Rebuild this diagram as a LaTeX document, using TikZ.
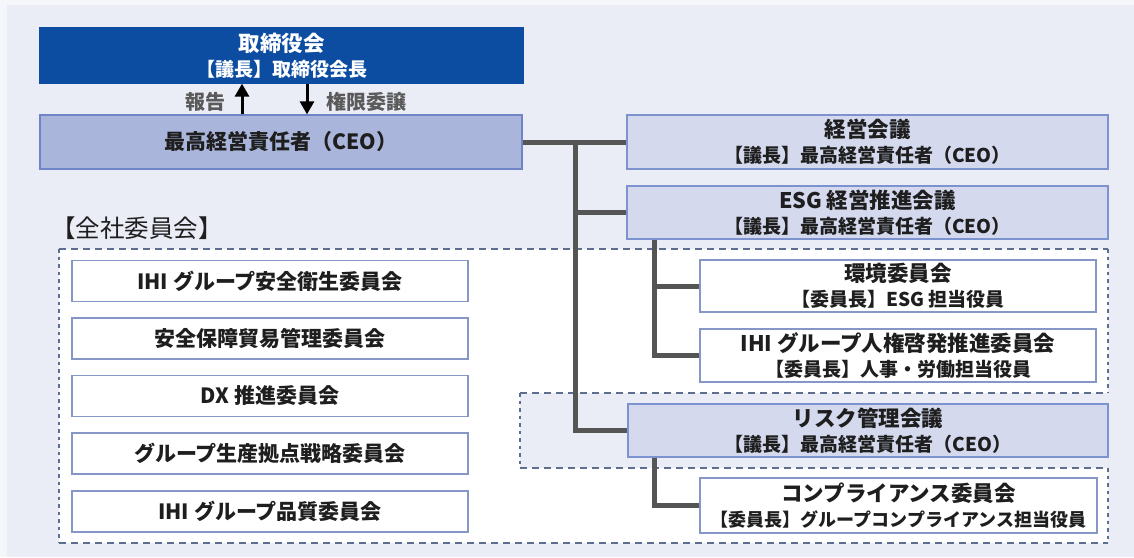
\documentclass[tikz,border=0pt]{standalone}
\usepackage{fontspec}
\setmainfont{Noto Sans CJK JP}
\usetikzlibrary{arrows.meta}
\definecolor{outerc}{HTML}{F5F6FA}
\definecolor{bgc}{HTML}{EBEDF6}
\definecolor{topblue}{HTML}{0C4DA2}
\definecolor{ceofill}{HTML}{A9B5DA}
\definecolor{ceoline}{HTML}{6F84C6}
\definecolor{rfill}{HTML}{D4D9EE}
\definecolor{rline}{HTML}{7D93CF}
\definecolor{wline}{HTML}{8696C6}
\definecolor{connc}{HTML}{555555}
\definecolor{dashc}{HTML}{5E6E8E}
\definecolor{txt}{HTML}{1E1E1E}
\definecolor{lblc}{HTML}{5A5A5A}
\newcommand{\myttl}{\bfseries\fontsize{21.5}{25}\selectfont}
\newcommand{\mysub}{\bfseries\fontsize{19}{25}\selectfont}
\newcommand{\mysubs}{\bfseries\fontsize{18}{25}\selectfont}
\begin{document}
\begin{tikzpicture}[x=1pt,y=-1pt,
  box/.style={draw, line width=1.3pt, inner sep=0pt, align=center, text=txt, font=\mysub},
  bluebox/.style={box, fill=topblue, draw=topblue, text=white},
  ceobox/.style={box, fill=ceofill, draw=ceoline},
  rbox/.style={box, fill=rfill, draw=rline},
  wbox/.style={box, fill=white, draw=wline},
  lbox/.style={box, fill=white, draw=wline, font=\bfseries\fontsize{21}{25}\selectfont, minimum width=396pt, minimum height=41pt},
  conn/.style={draw=connc, line width=5pt},
  dsh/.style={draw=dashc, line width=1.6pt, dash pattern=on 7pt off 5pt},
  dshv/.style={draw=dashc, line width=1.6pt, dash pattern=on 3.5pt off 4pt},
  arr/.style={line width=3pt, -{Triangle[width=14pt,length=13pt]}},
  lbl/.style={text=lblc, font=\bfseries\fontsize{20}{24}\selectfont, inner sep=0pt}
]
\useasboundingbox (0,0) rectangle (1134,557);
\fill[outerc] (0,0) rectangle (1134,557);
\fill[bgc] (7,5) rectangle (1134,557);
% white region of committees
\fill[white] (59,249) -- (1108,249) -- (1108,393) -- (520,393) -- (520,468)
  -- (1108,468) -- (1108,543) -- (59,543) -- cycle;
\fill[bgc] (520,393) rectangle (1108,468);
% dashed outlines
\draw[dsh] (59,249) -- (1108,249);
\draw[dsh] (520,393) -- (1108,393);
\draw[dsh] (520,468) -- (1108,468);
\draw[dsh] (59,543) -- (1108,543);
\draw[dshv] (59,249) -- (59,543);
\draw[dshv] (1108,249) -- (1108,393);
\draw[dshv] (520,393) -- (520,468);
\draw[dshv] (1108,468) -- (1108,543);
% label
\node[anchor=west, inner sep=0pt, text=txt, font=\fontsize{24.5}{27}\selectfont] (zensha) at (51,228) {【全社委員会】};
% boxes
\node[bluebox, minimum width=483pt, minimum height=55pt] (board) at (281.5,55.5)
  {{\myttl 取締役会}\\{\mysub 【議長】取締役会長}};
\node[ceobox, minimum width=482pt, minimum height=54pt, font=\bfseries\fontsize{21}{25}\selectfont] (ceo) at (281,142)
  {最高経営責任者（CEO）};
\node[rbox, minimum width=481pt, minimum height=54pt] (keiei) at (867.5,142)
  {{\myttl 経営会議}\\{\mysub 【議長】最高経営責任者（CEO）}};
\node[rbox, minimum width=481pt, minimum height=53pt] (esg) at (867.5,212.5)
  {{\myttl ESG 経営推進会議}\\{\mysub 【議長】最高経営責任者（CEO）}};
\node[wbox, minimum width=396pt, minimum height=52pt] (env) at (898,286)
  {{\myttl 環境委員会}\\{\mysub 【委員長】ESG 担当役員}};
\node[wbox, minimum width=396pt, minimum height=53pt] (hr) at (898,355.5)
  {{\myttl IHI グループ人権啓発推進委員会}\\{\mysub 【委員長】人事・労働担当役員}};
\node[rbox, minimum width=480pt, minimum height=53pt] (risk) at (868,430.5)
  {{\myttl リスク管理会議}\\{\mysub 【議長】最高経営責任者（CEO）}};
\node[wbox, minimum width=397pt, minimum height=55pt] (comp) at (898.5,505.5)
  {{\myttl コンプライアンス委員会}\\{\mysubs 【委員長】グループコンプライアンス担当役員}};
\node[lbox] (l1) at (270,281) {IHI グループ安全衛生委員会};
\node[lbox] (l2) at (270,338.5) {安全保障貿易管理委員会};
\node[lbox] (l3) at (270,396) {DX 推進委員会};
\node[lbox] (l4) at (270,453.5) {グループ生産拠点戦略委員会};
\node[lbox] (l5) at (270,511.5) {IHI グループ品質委員会};
% connectors
\coordinate (tk) at (575,0);
\coordinate (sk) at (654,0);
\draw[conn] (ceo.east) -- (keiei.west);
\draw[conn] (ceo.east -| tk) |- (risk.west);
\draw[conn] (esg.west -| tk) -- (esg.west);
\draw[conn] (esg.south -| sk) |- (hr.west);
\draw[conn] (env.west -| sk) -- (env.west);
\draw[conn] (risk.south -| sk) |- (comp.west);
% arrows between board and CEO
\coordinate (ux) at (242,0);
\coordinate (dx) at (307,0);
\draw[arr] (ceo.north -| ux) -- (board.south -| ux);
\draw[arr] (board.south -| dx) -- (ceo.north -| dx);
\node[lbl, anchor=east] (hokoku) at (226,102) {報告};
\node[lbl, anchor=west] (kengen) at (326,102) {権限委譲};
\end{tikzpicture}
\end{document}
